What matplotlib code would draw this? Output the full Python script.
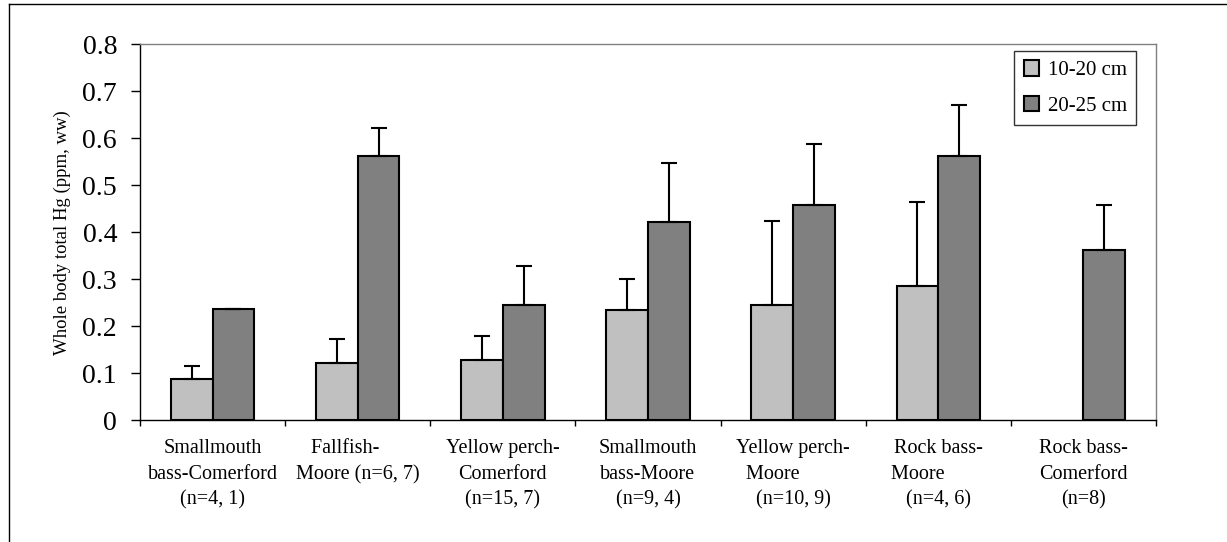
import matplotlib
matplotlib.use("Agg")
import matplotlib.pyplot as plt
import numpy as np
from matplotlib.lines import Line2D

plt.rcParams['font.family'] = ['Liberation Serif', 'DejaVu Serif']

categories = ["Smallmouth\nbass-Comerford\n(n=4, 1)",
              "Fallfish-     \nMoore (n=6, 7)",
              "Yellow perch-\nComerford\n(n=15, 7)",
              "Smallmouth\nbass-Moore\n(n=9, 4)",
              "Yellow perch-\nMoore        \n(n=10, 9)",
              "Rock bass-\nMoore        \n(n=4, 6)",
              "Rock bass-\nComerford\n(n=8)"]
small = [0.088, 0.121, 0.128, 0.234, 0.246, 0.286, np.nan]
small_err = [0.026, 0.051, 0.051, 0.066, 0.178, 0.178, 0]
large = [0.237, 0.563, 0.246, 0.421, 0.457, 0.563, 0.362]
large_err = [0.0, 0.059, 0.083, 0.127, 0.131, 0.109, 0.095]
series_names = ["10-20 cm", "20-25 cm"]

fig = plt.figure(figsize=(12.27, 5.42), dpi=100)
ax = fig.add_axes([140/1227, 122/542, 1016/1227, 375.5/542])

x = np.arange(len(categories))
w = 0.287
err_kw = dict(ecolor='black', elinewidth=1.5, capsize=5.5, capthick=1.5)
s_err = [np.zeros(len(small)), small_err]
l_err = [np.zeros(len(large)), large_err]
ax.bar(x - w/2, small, w, color='#c0c0c0', edgecolor='black', linewidth=1.5,
       yerr=s_err, error_kw=err_kw, label=series_names[0])
ax.bar(x + w/2, large, w, color='#808080', edgecolor='black', linewidth=1.5,
       yerr=l_err, error_kw=err_kw, label=series_names[1])

ax.set_xlim(-0.5, len(categories) - 0.5)
ax.set_ylim(0, 0.8)
ax.set_yticks(np.arange(0, 0.81, 0.1))
ax.set_yticklabels(["0"] + ["%.1f" % v for v in np.arange(0.1, 0.81, 0.1)], fontsize=20)
ax.tick_params(axis='y', length=6.5, width=1, pad=10)

ax.set_xticks(x)
ax.set_xticklabels(categories, fontsize=14.5, linespacing=1.45)
ax.set_xticks(np.arange(-0.5, len(categories), 1), minor=True)
ax.tick_params(axis='x', which='major', length=0, pad=14)
ax.tick_params(axis='x', which='minor', length=4, width=1)

ax.set_ylabel("Whole body total Hg (ppm, ww)", fontsize=13.5, labelpad=8)

for s in ['top', 'right']:
    ax.spines[s].set_color('#808080')
    ax.spines[s].set_linewidth(1)
for s in ['left', 'bottom']:
    ax.spines[s].set_color('black')
    ax.spines[s].set_linewidth(1)

leg = ax.legend(loc='upper right', bbox_to_anchor=(0.9805, 0.983), fontsize=15,
                frameon=True, fancybox=False, edgecolor='black', handlelength=0.75,
                handleheight=0.75, handletextpad=0.4, borderpad=0.45, labelspacing=0.75,
                borderaxespad=0)
leg.get_frame().set_linewidth(1)

# outer chart border
fig.add_artist(Line2D([9/1227, 9/1227], [0, 1 - 4/542], color='black', lw=1))
fig.add_artist(Line2D([9/1227, 1], [1 - 4/542, 1 - 4/542], color='black', lw=1))

fig.savefig("out.png", dpi=100)
